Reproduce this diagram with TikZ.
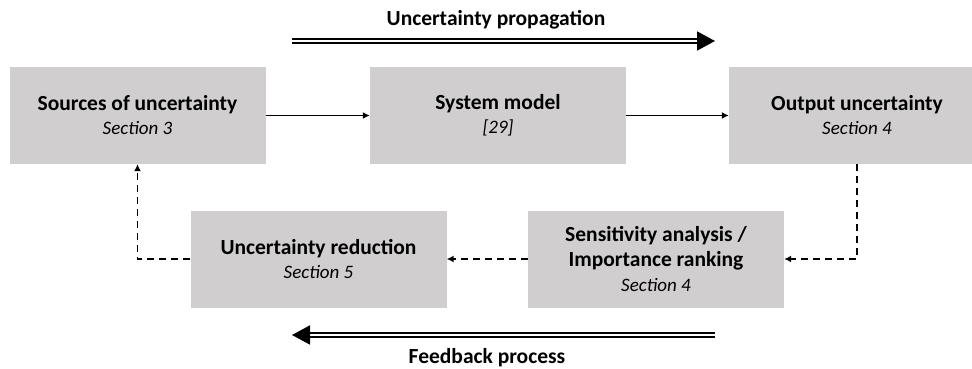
\documentclass[tikz,border=0pt]{standalone}
\usepackage{fontspec}
\setmainfont{Carlito}
\usetikzlibrary{arrows.meta}
\definecolor{boxgray}{HTML}{D0CECE}
\tikzset{
  block/.style={fill=boxgray, draw=none, minimum width=256pt, minimum height=97pt,
    inner sep=0pt, align=center, text=black, font=\fontsize{21.5}{24}\selectfont},
  flow/.style={-{Latex[length=7pt,width=7pt]}, line width=1.8pt},
  back/.style={-{Latex[length=7pt,width=7pt]}, line width=1.8pt, dash pattern=on 7pt off 5pt},
  bigarrow/.style={double, double distance=2.2pt, line width=1.8pt,
    -{Triangle[length=18pt,width=19pt]}},
  lab/.style={font=\bfseries\fontsize{21.5}{24}\selectfont, inner sep=0pt}
}
\newcommand{\ttl}[1]{{\bfseries #1}}
\newcommand{\sect}[1]{{\itshape\fontsize{19}{24}\selectfont #1}}
\begin{document}
\begin{tikzpicture}[x=1pt, y=-1pt]
  \useasboundingbox (0,0) rectangle (972,369);
  \clip (0,0) rectangle (972,369);

  % main chain
  \node[block] (src) at (137.5,115.5) {\ttl{Sources of uncertainty}\\\sect{Section 3}};
  \node[block] (sys) at (498,115.5) {\ttl{System model}\\\sect{[29]}};
  \node[block] (out) at (857,115.5) {\ttl{Output uncertainty}\\\sect{Section 4}};

  % feedback chain
  \node[block, font=\fontsize{21.5}{25}\selectfont] (sens) at (656,259)
    {\ttl{Sensitivity analysis /}\\\ttl{Importance ranking}\\\sect{Section 4}};
  \node[block] (red) at (318.5,259) {\ttl{Uncertainty reduction}\\\sect{Section 5}};

  \draw[flow] (src) -- (sys);
  \draw[flow] (sys) -- (out);

  \draw[back] (out.south) |- (sens.east);
  \draw[back] (sens.west) -- (red.east);
  \draw[back] (red.west) -| (src.south);

  % overall direction arrows
  \coordinate (pa) at (292,41);
  \coordinate (pb) at (715,41);
  \coordinate (fa) at (715,335);
  \coordinate (fb) at (292,335);
  \draw[bigarrow] (pa) -- (pb);
  \draw[bigarrow] (fa) -- (fb);
  \node[lab] (plab) at (496,20) {Uncertainty propagation};
  \node[lab] (flab) at (487,358) {Feedback process};
\end{tikzpicture}
\end{document}
